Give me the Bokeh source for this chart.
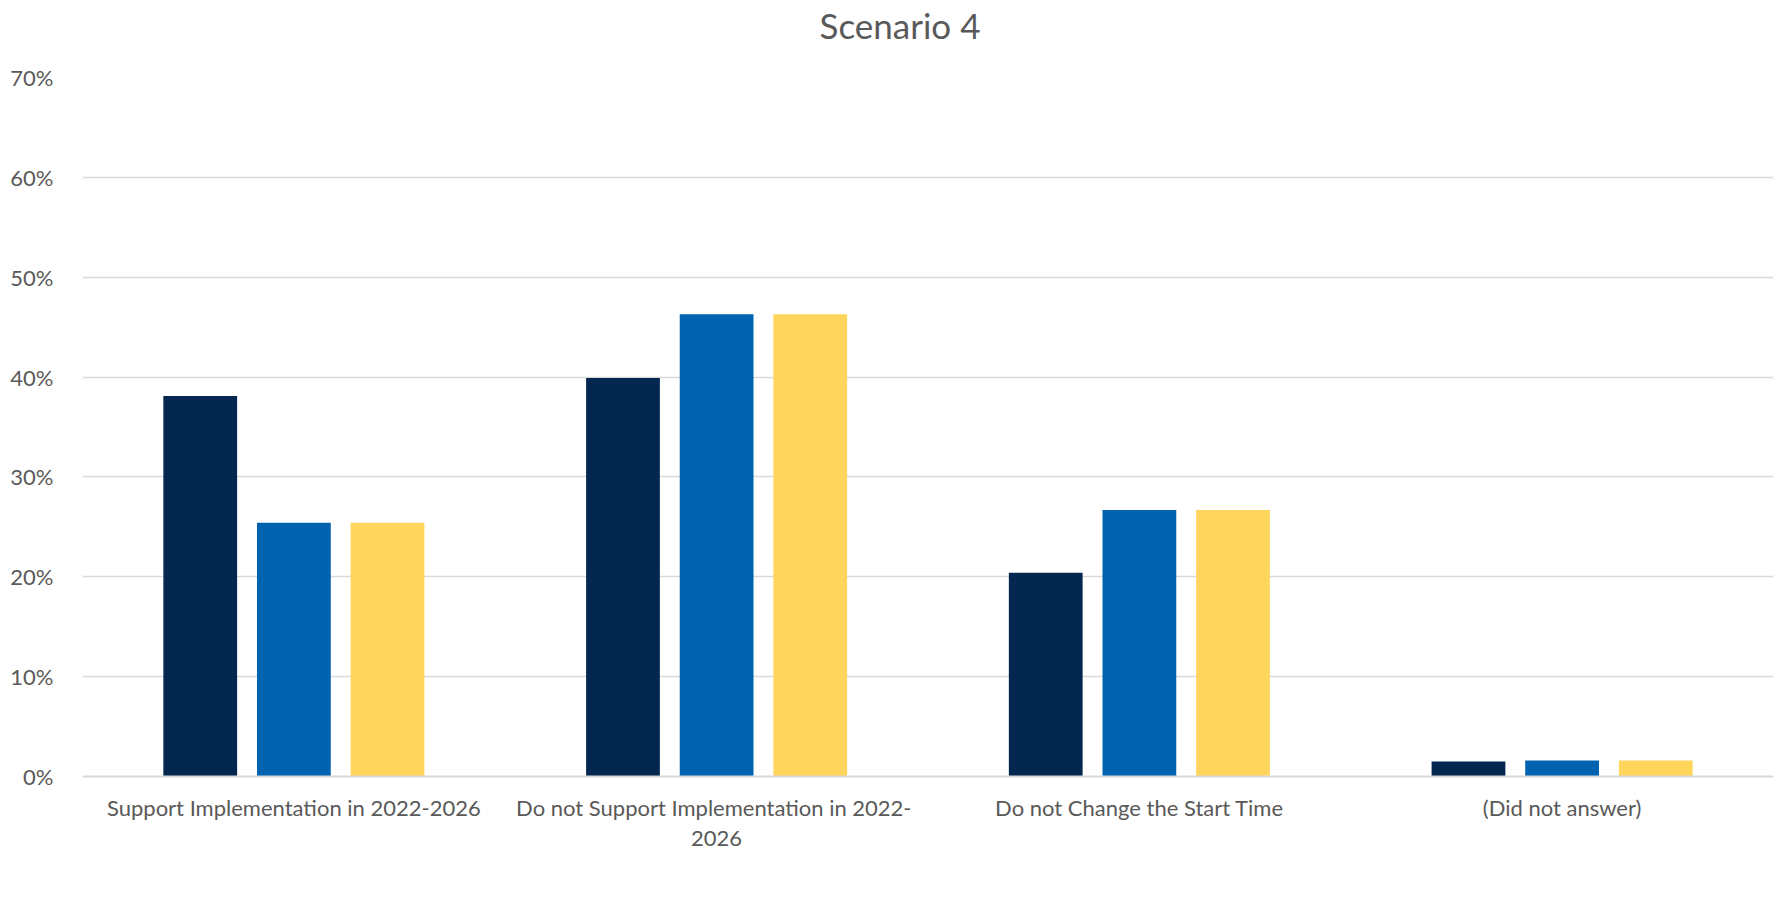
from bokeh.plotting import figure
from bokeh.models import (ColumnDataSource, FactorRange, Range1d, Legend, LegendItem, Title,
                          NumeralTickFormatter, FixedTicker)
from bokeh.transform import dodge
from bokeh.embed import file_html
from bokeh.resources import INLINE

categories = ["Support Implementation in 2022-2026",
              "Do not Support Implementation in  2022-\n2026",
              "Do not Change the Start Time",
              "(Did not answer)"]
parent = [0.381, 0.399, 0.204, 0.015]
staff = [0.254, 0.463, 0.267, 0.016]
student = [0.254, 0.463, 0.267, 0.016]
series_names = ["Parent%", "Staff%", "Student%"]
colors = ["#03274F", "#0063B0", "#FFD55C"]
y_ticks = [0, 0.1, 0.2, 0.3, 0.4, 0.5, 0.6, 0.7]

FONT = "Lato"
TXT = "#595959"
GRID = "#D9D9D9"
FS = "22px"

src = ColumnDataSource(dict(cat=categories, parent=parent, staff=staff, student=student))

p = figure(frame_width=1691, frame_height=699,
           x_range=FactorRange(*categories, range_padding=0),
           y_range=Range1d(0, 0.7), output_backend="svg", toolbar_location=None,
           title=None,
           min_border_left=82, min_border_right=7, min_border_top=77, min_border_bottom=116)
p.outline_line_color = None
p.background_fill_color = "white"
p.border_fill_color = "white"

offsets = [-0.2215, 0.0, 0.2215]
fields = ["parent", "staff", "student"]
renderers = []
for f, off, c in zip(fields, offsets, colors):
    r = p.vbar(x=dodge("cat", off, range=p.x_range), top=f, width=0.1745, source=src,
               fill_color=c, line_color=None)
    renderers.append(r)

# y axis
p.yaxis.ticker = FixedTicker(ticks=y_ticks)
p.yaxis.formatter = NumeralTickFormatter(format="0%")
p.yaxis.axis_line_color = None
p.yaxis.major_tick_line_color = None
p.yaxis.minor_tick_line_color = None
p.yaxis.major_label_standoff = 23
p.yaxis.major_label_text_font = FONT
p.yaxis.major_label_text_font_size = FS
p.yaxis.major_label_text_color = TXT

# x axis
p.xaxis.axis_line_color = GRID
p.xaxis.axis_line_width = 2
p.xaxis.major_tick_line_color = None
p.xaxis.minor_tick_line_color = None
p.xaxis.major_label_standoff = 11
p.xaxis.major_label_text_font = FONT
p.xaxis.major_label_text_font_size = FS
p.xaxis.major_label_text_color = TXT
p.xaxis.major_label_text_line_height = 1.12

p.xgrid.grid_line_color = None
p.ygrid.grid_line_color = GRID
p.ygrid.grid_line_width = 1.5
p.ygrid.ticker = FixedTicker(ticks=y_ticks)

# title (a blank spacer panel sits between the title and the plot)
p.add_layout(Title(text="\u00a0", standoff=6, text_font=FONT, text_font_size="20px"), "above")
p.add_layout(Title(text="Scenario 4", align="left", offset=737, standoff=0,
                   text_font=FONT, text_font_size="35px", text_font_style="normal",
                   text_color=TXT), "above")

legend = Legend(items=[LegendItem(label=n, renderers=[r]) for n, r in zip(series_names, renderers)],
                orientation="horizontal", location=(653, 16),
                glyph_width=14, glyph_height=14, label_standoff=5, spacing=24,
                padding=0, margin=13, border_line_color=None, background_fill_alpha=0,
                label_text_font=FONT, label_text_font_size=FS, label_text_color=TXT,
                label_height=20)
p.add_layout(legend, "below")

open("out.html", "w").write(file_html(p, INLINE))
